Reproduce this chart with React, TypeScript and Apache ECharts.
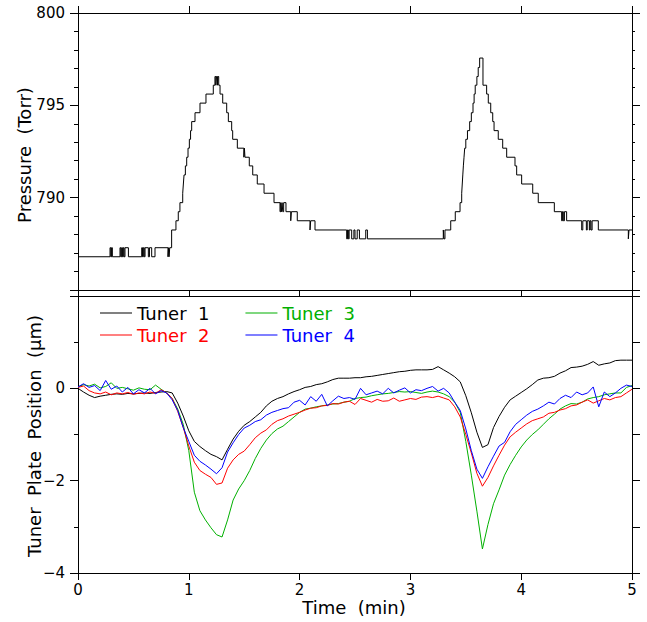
import React, { useEffect, useRef } from "react";
import * as echarts from "echarts";

// Pressure record: [time (min), pressure (Torr)], value holds until the next step
const pressureSteps: [number, number][] = [
  [0.0, 786.8], [0.289, 787.29], [0.296, 786.8], [0.303, 787.29], [0.31, 786.8],
  [0.379, 787.29], [0.386, 786.8], [0.394, 787.29], [0.401, 786.8], [0.409, 787.29],
  [0.416, 786.8], [0.424, 787.29], [0.455, 786.8], [0.575, 787.29], [0.582, 786.8],
  [0.59, 787.29], [0.598, 786.8], [0.605, 787.29], [0.635, 786.8], [0.645, 787.29],
  [0.665, 786.8], [0.695, 787.29], [0.812, 786.8], [0.818, 787.29], [0.822, 786.8],
  [0.828, 787.29], [0.845, 788.25], [0.884, 788.75], [0.905, 789.24], [0.92, 789.73],
  [0.945, 790.24], [0.951, 790.74], [0.957, 791.23], [0.969, 791.72], [0.981, 792.19],
  [0.993, 792.68], [1.005, 793.16], [1.016, 793.63], [1.026, 794.12], [1.056, 794.6],
  [1.101, 795.12], [1.155, 795.61], [1.221, 796.09], [1.236, 796.56], [1.244, 796.09],
  [1.25, 796.56], [1.258, 796.09], [1.262, 796.56], [1.27, 796.09], [1.282, 795.61],
  [1.306, 795.12], [1.342, 794.6], [1.357, 794.12], [1.387, 793.63], [1.396, 793.16],
  [1.438, 792.68], [1.497, 792.19], [1.502, 792.68], [1.507, 792.19], [1.546, 791.72],
  [1.577, 791.23], [1.618, 790.74], [1.679, 790.24], [1.769, 789.73], [1.823, 789.24],
  [1.83, 789.73], [1.836, 789.24], [1.842, 789.73], [1.848, 789.24], [1.856, 789.73],
  [1.877, 789.24], [1.92, 788.75], [1.926, 789.24], [1.979, 788.75], [2.094, 788.25],
  [2.1, 788.75], [2.139, 788.25], [2.425, 787.77], [2.432, 788.25], [2.44, 787.77],
  [2.447, 788.25], [2.47, 787.77], [2.49, 788.25], [2.5, 787.77], [2.52, 788.25],
  [2.54, 787.77], [2.597, 788.25], [2.612, 787.77], [3.297, 788.25], [3.303, 787.77],
  [3.312, 788.25], [3.364, 788.75], [3.405, 789.24], [3.448, 789.73], [3.463, 790.24],
  [3.468, 790.74], [3.473, 791.23], [3.478, 791.72], [3.484, 792.19], [3.49, 792.68],
  [3.5, 793.16], [3.515, 793.63], [3.535, 794.12], [3.55, 794.6], [3.565, 795.12],
  [3.575, 795.61], [3.585, 796.09], [3.6, 796.56], [3.612, 797.05], [3.625, 797.56],
  [3.655, 796.09], [3.688, 795.61], [3.703, 795.12], [3.725, 794.6], [3.743, 794.12],
  [3.755, 793.63], [3.793, 793.16], [3.833, 792.68], [3.869, 792.19], [3.944, 791.72],
  [3.959, 791.23], [4.004, 790.74], [4.104, 790.24], [4.154, 789.73], [4.299, 789.24],
  [4.365, 788.75], [4.372, 789.24], [4.38, 788.75], [4.39, 789.24], [4.41, 788.75],
  [4.546, 788.25], [4.556, 788.75], [4.588, 788.25], [4.596, 788.75], [4.615, 788.25],
  [4.622, 788.75], [4.63, 788.25], [4.64, 788.75], [4.696, 788.25], [4.967, 787.77],
  [4.973, 788.25], [5.0, 788.25],
];

const tunerTime = [
  0.0, 0.05, 0.1, 0.15, 0.2, 0.25, 0.3, 0.35, 0.4, 0.45,
  0.5, 0.55, 0.6, 0.65, 0.7, 0.75, 0.8, 0.85, 0.9, 0.95,
  1.0, 1.05, 1.1, 1.15, 1.2, 1.25, 1.3, 1.35, 1.4, 1.45,
  1.5, 1.55, 1.6, 1.65, 1.7, 1.75, 1.8, 1.85, 1.9, 1.95,
  2.0, 2.05, 2.1, 2.15, 2.2, 2.25, 2.3, 2.35, 2.4, 2.45,
  2.5, 2.55, 2.6, 2.65, 2.7, 2.75, 2.8, 2.85, 2.9, 2.95,
  3.0, 3.05, 3.1, 3.15, 3.2, 3.25, 3.3, 3.35, 3.4, 3.45,
  3.5, 3.55, 3.6, 3.65, 3.7, 3.75, 3.8, 3.85, 3.9, 3.95,
  4.0, 4.05, 4.1, 4.15, 4.2, 4.25, 4.3, 4.35, 4.4, 4.45,
  4.5, 4.55, 4.6, 4.65, 4.7, 4.75, 4.8, 4.85, 4.9, 4.95,
  5.0,
];

const tuner1 = [
  0.0, -0.08, -0.15, -0.2, -0.17, -0.15, -0.13, -0.12, -0.13, -0.11,
  -0.12, -0.11, -0.1, -0.11, -0.09, -0.08, -0.07, -0.1, -0.32, -0.6,
  -0.92, -1.15, -1.26, -1.35, -1.43, -1.48, -1.55, -1.32, -1.1, -0.93,
  -0.8, -0.72, -0.62, -0.52, -0.38, -0.28, -0.22, -0.18, -0.12, -0.07,
  -0.03, 0.02, 0.04, 0.08, 0.1, 0.14, 0.19, 0.22, 0.22, 0.22,
  0.23, 0.23, 0.25, 0.26, 0.28, 0.3, 0.32, 0.34, 0.36, 0.37,
  0.39, 0.4, 0.4, 0.4, 0.41, 0.47, 0.4, 0.33, 0.25, 0.14,
  -0.16, -0.53, -0.95, -1.28, -1.22, -0.85, -0.61, -0.41, -0.25, -0.17,
  -0.09, -0.01, 0.08, 0.18, 0.22, 0.23, 0.26, 0.33, 0.38, 0.45,
  0.46, 0.48, 0.52, 0.58, 0.5, 0.53, 0.55, 0.6, 0.61, 0.61,
  0.61,
];

const tuner2 = [
  0.02, 0.05, -0.05, -0.1, -0.12, -0.08, -0.14, -0.1, -0.12, -0.09,
  -0.13, -0.1, -0.12, -0.08, -0.11, -0.03, -0.1, -0.22, -0.5, -0.85,
  -1.25, -1.6, -1.78, -1.86, -1.93, -2.08, -2.05, -1.73, -1.55, -1.43,
  -1.36, -1.22, -1.07, -0.97, -0.9, -0.78, -0.7, -0.66, -0.6, -0.56,
  -0.52, -0.47, -0.43, -0.42, -0.38, -0.37, -0.33, -0.34, -0.3, -0.28,
  -0.35, -0.22, -0.26, -0.3, -0.24, -0.28, -0.27, -0.21, -0.28, -0.25,
  -0.22, -0.24, -0.19, -0.18, -0.2, -0.17, -0.21, -0.25, -0.4, -0.62,
  -1.0, -1.4, -1.84, -2.12, -1.93, -1.68, -1.45, -1.23, -1.05, -0.95,
  -0.86, -0.77, -0.7, -0.66, -0.62, -0.54, -0.52, -0.47, -0.44, -0.38,
  -0.36, -0.3, -0.25, -0.32, -0.27, -0.22, -0.25, -0.2, -0.18, -0.1,
  -0.02,
];

const tuner3 = [
  0.03, 0.08, 0.05, 0.09, 0.01, 0.04, 0.12, 0.0, 0.02, -0.01,
  -0.04, 0.01, -0.02, -0.03, 0.07, -0.02, -0.1, -0.22, -0.45, -0.78,
  -1.35, -2.25, -2.65, -2.85, -3.02, -3.17, -3.22, -2.85, -2.42, -2.18,
  -2.0, -1.78, -1.52, -1.3, -1.12, -0.98, -0.88, -0.82, -0.72, -0.62,
  -0.52, -0.45, -0.43, -0.4, -0.38, -0.36, -0.34, -0.33, -0.3, -0.28,
  -0.22, -0.2, -0.19, -0.16, -0.14, -0.12, -0.11, -0.09, -0.07, -0.08,
  -0.07, -0.09, -0.11, -0.08, -0.06, -0.08, -0.12, -0.18, -0.3, -0.52,
  -1.15, -1.88, -2.66, -3.48, -2.95, -2.5, -2.2, -1.88, -1.65, -1.45,
  -1.27, -1.12, -1.0, -0.9, -0.78, -0.66, -0.56, -0.45, -0.38, -0.33,
  -0.34, -0.3, -0.23, -0.2, -0.18, -0.14, -0.12, -0.1, -0.1, 0.02,
  0.06,
];

const tuner4 = [
  0.03, 0.1, 0.02, 0.06, -0.05, 0.17, -0.02, 0.05, -0.08, 0.02,
  -0.12, -0.03, -0.1, 0.0, -0.12, -0.05, -0.1, -0.25, -0.48, -0.85,
  -1.15, -1.45, -1.58, -1.66, -1.75, -1.85, -1.72, -1.38, -1.18, -1.0,
  -0.86, -0.8, -0.72, -0.68, -0.58, -0.52, -0.48, -0.44, -0.42, -0.3,
  -0.26, -0.36, -0.18, -0.28, -0.13, -0.38, -0.27, -0.17, -0.22, -0.2,
  -0.24, 0.0, -0.14, -0.1, -0.06, -0.12, 0.0, -0.1, -0.04, 0.01,
  -0.1, -0.03, -0.05, 0.0, 0.04, -0.06, 0.0, -0.1, -0.3, -0.48,
  -0.88, -1.35, -1.75, -1.95, -1.7, -1.47, -1.25, -1.17, -0.94, -0.78,
  -0.68, -0.58, -0.5, -0.45, -0.38, -0.3, -0.34, -0.22, -0.15, -0.2,
  -0.08, -0.14, -0.1, 0.03, -0.4, -0.08, -0.18, -0.1, 0.0, 0.07,
  0.04,
];

const seriesNames = ["Tuner 1", "Tuner 2", "Tuner 3", "Tuner 4"];
const seriesColors = ["#000000", "#ff0000", "#00b000", "#0000ff"];
const timeTicks = [0, 1, 2, 3, 4, 5];

const FONT = "DejaVu Sans";
const BLACK = "#000000";

const baseAxisLine = { show: true, onZero: false, lineStyle: { color: BLACK, width: 1 } };

export default function App() {
  const ref = useRef<HTMLDivElement>(null);

  useEffect(() => {
    if (!ref.current) return;
    document.body.style.margin = "0";
    const chart = echarts.init(ref.current, null, { renderer: "svg" });

    const tunerData = [tuner1, tuner2, tuner3, tuner4];

    const xCommon = {
      type: "value",
      min: timeTicks[0],
      max: timeTicks[timeTicks.length - 1],
      interval: 1,
      splitLine: { show: false },
      axisLine: baseAxisLine,
    };

    const minus = (v: number) => (v < 0 ? "\u2212" + Math.abs(v) : String(v));

    const legendCommon = {
      orient: "horizontal",
      left: 100,
      padding: 0,
      itemWidth: 32,
      itemHeight: 1,
      itemGap: 36,
      icon: "rect",
      selectedMode: false,
      formatter: (n: string) => n.replace(" ", "  "),
      textStyle: { fontSize: 18, fontFamily: FONT, padding: [0, 0, 0, 0] },
    };

    const option: any = {
      animation: false,
      backgroundColor: "#ffffff",
      textStyle: { fontFamily: FONT },
      grid: [
        { left: 78, right: 15, top: 13, height: 277, containLabel: false },
        { left: 78, right: 15, top: 296, height: 277, containLabel: false },
      ],
      xAxis: [
        {
          ...xCommon,
          gridIndex: 0,
          position: "bottom",
          axisTick: { show: true, length: 6, lineStyle: { color: BLACK } },
          axisLabel: { show: false },
        },
        {
          ...xCommon,
          gridIndex: 0,
          position: "top",
          axisTick: { show: true, length: 7, lineStyle: { color: BLACK } },
          axisLabel: { show: false },
        },
        {
          ...xCommon,
          gridIndex: 1,
          position: "bottom",
          axisTick: { show: true, length: 7, lineStyle: { color: BLACK } },
          axisLabel: { show: true, margin: 9, fontSize: 15, color: BLACK, fontFamily: FONT },
        },
        {
          ...xCommon,
          gridIndex: 1,
          position: "top",
          axisTick: { show: false },
          axisLabel: { show: false },
        },
      ],
      yAxis: [
        {
          type: "value",
          gridIndex: 0,
          position: "left",
          min: 785,
          max: 800,
          interval: 5,
          axisLine: baseAxisLine,
          axisTick: { show: true, length: 8, lineStyle: { color: BLACK } },
          minorTick: { show: true, splitNumber: 5, length: 4, lineStyle: { color: BLACK } },
          splitLine: { show: false },
          axisLabel: {
            margin: 13,
            fontSize: 15,
            color: BLACK,
            fontFamily: FONT,
            formatter: (v: number) => (v === 785 ? "" : String(v)),
          },
        },
        {
          type: "value",
          gridIndex: 0,
          position: "right",
          min: 785,
          max: 800,
          interval: 5,
          axisLine: baseAxisLine,
          axisTick: { show: true, length: 8, lineStyle: { color: BLACK } },
          minorTick: { show: true, splitNumber: 5, length: 3, lineStyle: { color: BLACK } },
          splitLine: { show: false },
          axisLabel: { show: false },
        },
        {
          type: "value",
          gridIndex: 1,
          position: "left",
          min: -4,
          max: 2,
          interval: 2,
          axisLine: baseAxisLine,
          axisTick: { show: true, length: 8, lineStyle: { color: BLACK } },
          minorTick: { show: true, splitNumber: 2, length: 4, lineStyle: { color: BLACK } },
          splitLine: { show: false },
          axisLabel: {
            margin: 13,
            fontSize: 15,
            color: BLACK,
            fontFamily: FONT,
            formatter: (v: number) => (v === 2 ? "" : minus(v)),
          },
        },
        {
          type: "value",
          gridIndex: 1,
          position: "right",
          min: -4,
          max: 2,
          interval: 2,
          axisLine: baseAxisLine,
          axisTick: { show: true, length: 8, lineStyle: { color: BLACK } },
          minorTick: { show: true, splitNumber: 2, length: 8, lineStyle: { color: BLACK } },
          splitLine: { show: false },
          axisLabel: { show: false },
        },
      ],
      legend: [
        {
          ...legendCommon,
          top: 304,
          data: [
            { name: seriesNames[0], textStyle: { color: seriesColors[0] } },
            { name: seriesNames[2], textStyle: { color: seriesColors[2] } },
          ],
        },
        {
          ...legendCommon,
          top: 326,
          data: [
            { name: seriesNames[1], textStyle: { color: seriesColors[1] } },
            { name: seriesNames[3], textStyle: { color: seriesColors[3] } },
          ],
        },
      ],
      graphic: [
        {
          type: "text",
          x: 24,
          y: 155,
          rotation: Math.PI / 2,
          style: {
            text: "Pressure  (Torr)",
            fontSize: 18,
            fontFamily: FONT,
            fill: BLACK,
            align: "center",
            verticalAlign: "middle",
          },
        },
        {
          type: "text",
          x: 34,
          y: 436,
          rotation: Math.PI / 2,
          style: {
            text: "Tuner  Plate  Position  (\u03bcm)",
            fontSize: 18,
            fontFamily: FONT,
            fill: BLACK,
            align: "center",
            verticalAlign: "middle",
          },
        },
        {
          type: "text",
          x: 354,
          y: 607,
          style: {
            text: "Time  (min)",
            fontSize: 18,
            fontFamily: FONT,
            fill: BLACK,
            align: "center",
            verticalAlign: "middle",
          },
        },
      ],
      series: [
        {
          name: "Pressure",
          type: "line",
          xAxisIndex: 0,
          yAxisIndex: 0,
          step: "end",
          symbol: "none",
          showSymbol: false,
          data: pressureSteps,
          lineStyle: { color: BLACK, width: 1 },
          itemStyle: { color: BLACK },
          silent: true,
        },
        ...[0, 2, 1, 3].map((k) => ({
          name: seriesNames[k],
          type: "line",
          xAxisIndex: 2,
          yAxisIndex: 2,
          symbol: "none",
          showSymbol: false,
          data: tunerTime.map((t, i) => [t, tunerData[k][i]]),
          lineStyle: { color: seriesColors[k], width: 1 },
          itemStyle: { color: seriesColors[k] },
          silent: true,
        })),
      ],
    };

    chart.setOption(option);
    return () => chart.dispose();
  }, []);

  return <div ref={ref} style={{ width: 647, height: 622 }} />;
}
